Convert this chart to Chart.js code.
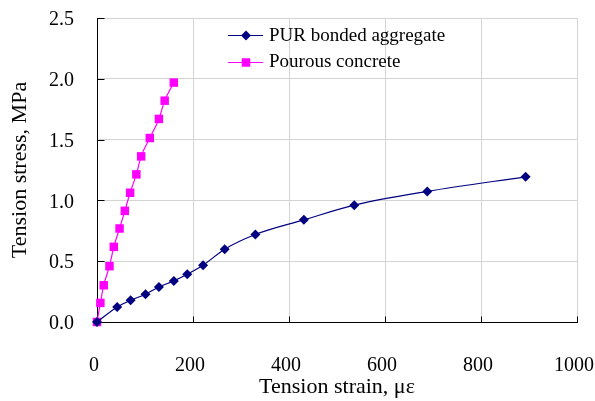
<!DOCTYPE html>
<html><head><meta charset="utf-8">
<script src="https://cdn.jsdelivr.net/npm/chart.js@4/dist/chart.umd.min.js"></script>
<style>html,body{margin:0;padding:0;background:#fff}#wrap{width:595px;height:401px}</style>
</head><body><div id="wrap"><canvas id="c" width="595" height="401"></canvas></div>
<script>
const purLabel = 'PUR bonded aggregate';
const pourousLabel = 'Pourous concrete';
const purStrain = [0, 42, 70, 101, 129, 160, 188, 221, 266, 330, 431, 536, 688, 893];
const purStress = [0, 0.124, 0.179, 0.228, 0.288, 0.338, 0.393, 0.467, 0.599, 0.720, 0.840, 0.961, 1.074, 1.194];
const pourousStrain = [0, 7, 14, 26, 35, 47, 58, 69, 82, 92, 110, 129, 141, 160];
const pourousStress = [0, 0.157, 0.302, 0.459, 0.618, 0.769, 0.914, 1.063, 1.214, 1.362, 1.513, 1.670, 1.820, 1.969];
const xTickValues = [0, 200, 400, 600, 800, 1000];
const yTickValues = [0, 0.5, 1.0, 1.5, 2.0, 2.5];
const xTitle = 'Tension strain, \u03bc\u03b5';
const yTitle = 'Tension stress, MPa';

const FONT = "'Liberation Serif', 'Times New Roman', serif";
const pts = (xs, ys) => xs.map((x, i) => ({x: x, y: ys[i]}));

const axesPlugin = {
  id: 'axesInside',
  beforeDatasetsDraw(chart) {
    const ctx = chart.ctx, a = chart.chartArea;
    const xs = chart.scales.x, ys = chart.scales.y;
    ctx.save();
    ctx.strokeStyle = '#000';
    ctx.lineWidth = 1;
    const L = Math.round(a.left) + 0.5, B = Math.round(a.bottom) + 0.5;
    ctx.beginPath();
    ctx.moveTo(L, Math.round(a.top)); ctx.lineTo(L, B);
    ctx.lineTo(Math.round(a.right) + 1, B);
    xTickValues.forEach(v => {
      const px = Math.round(xs.getPixelForValue(v)) + 0.5;
      ctx.moveTo(px, B); ctx.lineTo(px, B - 6);
    });
    yTickValues.forEach(v => {
      const py = Math.round(ys.getPixelForValue(v)) + 0.5;
      ctx.moveTo(L, py); ctx.lineTo(L + 7, py);
    });
    ctx.stroke();
    ctx.restore();
  },
  afterDraw(chart) {
    const ctx = chart.ctx;
    ctx.save();
    chart.data.datasets.forEach((ds, i) => {
      const y = 35 + i * 26.5;
      ctx.strokeStyle = ds.borderColor;
      ctx.lineWidth = 1;
      ctx.beginPath();
      ctx.moveTo(228, Math.round(y) + 0.5); ctx.lineTo(263, Math.round(y) + 0.5);
      ctx.stroke();
      ctx.fillStyle = ds.pointBackgroundColor;
      ctx.strokeStyle = ds.pointBorderColor;
      Chart.helpers.drawPoint(ctx, {pointStyle: ds.pointStyle, radius: ds.pointRadius, rotation: 0, borderWidth: 0}, 246, Math.round(y) + 0.5);
      ctx.fillStyle = '#000';
      ctx.font = '19px ' + FONT;
      ctx.textBaseline = 'middle';
      ctx.textAlign = 'left';
      ctx.fillText(ds.label, 269, y + 1);
    });
    ctx.restore();
  }
};

new Chart(document.getElementById('c'), {
  type: 'line',
  data: {
    datasets: [
      {
        label: purLabel,
        data: pts(purStrain, purStress),
        borderColor: '#000080',
        backgroundColor: '#000080',
        pointBackgroundColor: '#000080',
        pointBorderColor: '#000080',
        pointStyle: 'rectRot',
        pointRadius: 5,
        pointBorderWidth: 0,
        borderWidth: 1.2,
        cubicInterpolationMode: 'monotone',
        fill: false,
        clip: false
      },
      {
        label: pourousLabel,
        data: pts(pourousStrain, pourousStress),
        borderColor: '#FF00FF',
        backgroundColor: '#FF00FF',
        pointBackgroundColor: '#FF00FF',
        pointBorderColor: '#FF00FF',
        pointStyle: 'rect',
        pointRadius: 6,
        pointBorderWidth: 0,
        borderWidth: 1.2,
        cubicInterpolationMode: 'monotone',
        fill: false,
        clip: false
      }
    ]
  },
  options: {
    responsive: false,
    devicePixelRatio: 1,
    animation: false,
    events: [],
    layout: {padding: {top: 18, right: 18, left: 0, bottom: 0}},
    plugins: {legend: {display: false}, tooltip: {enabled: false}},
    scales: {
      x: {
        type: 'linear',
        min: 0, max: 1000,
        afterBuildTicks: s => { s.ticks = xTickValues.map(v => ({value: v})); },
        ticks: {
          color: '#000', font: {family: FONT, size: 20}, padding: 32, maxRotation: 0, labelOffset: -3,
          callback: v => String(v)
        },
        grid: {color: '#d4d4d4', lineWidth: 1, drawTicks: false},
        border: {display: false},
        title: {display: true, text: xTitle, color: '#000', font: {family: FONT, size: 22}, padding: {top: 0, bottom: 1}},
        afterFit: s => { s.height = 79; s.paddingLeft = 0; s.paddingRight = 0; }
      },
      y: {
        type: 'linear',
        min: 0, max: 2.5,
        afterBuildTicks: s => { s.ticks = yTickValues.map(v => ({value: v})); },
        ticks: {
          color: '#000', font: {family: FONT, size: 20}, padding: 23, labelOffset: 2,
          callback: v => Number(v).toFixed(1)
        },
        grid: {color: '#d4d4d4', lineWidth: 1, drawTicks: false},
        border: {display: false},
        title: {display: true, text: yTitle, color: '#000', font: {family: FONT, size: 22}, padding: {top: 7, bottom: 0}},
        afterFit: s => { s.width = 97; s.paddingTop = 0; s.paddingBottom = 0; }
      }
    }
  },
  plugins: [axesPlugin]
});
</script>
</body></html>
